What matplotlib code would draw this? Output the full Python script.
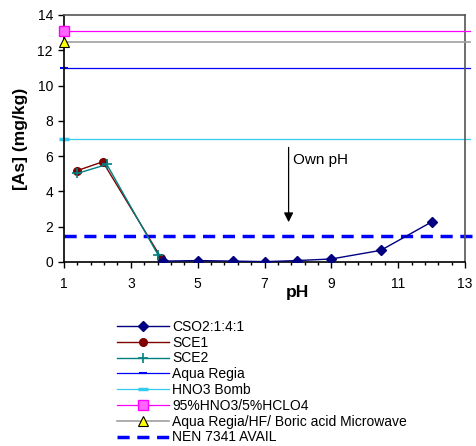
import matplotlib
matplotlib.use("Agg")
import matplotlib.pyplot as plt
import numpy as np
from matplotlib.ticker import MultipleLocator, FixedLocator

plt.rcParams['font.family'] = ['Liberation Sans', 'DejaVu Sans']

# Data
cso2_x = [3.97, 5.0, 6.05, 7.02, 7.97, 9.0, 10.48, 12.0]
cso2_y = [0.05, 0.08, 0.05, 0.02, 0.08, 0.17, 0.66, 2.27]
sce1_x = [1.38, 2.16, 3.9]
sce1_y = [5.17, 5.68, 0.25]
sce2_x = [1.4, 2.28, 3.82]
sce2_y = [5.02, 5.53, 0.38]
hline_x = [1, 13.15]
aqua_regia = 11.0
hno3_bomb = 6.97
hno3_hclo4 = 13.12
aqua_hf = 12.45
nen_7341 = 1.46
nen_x = [1, 13.2]
x_ticks = [1, 3, 5, 7, 9, 11, 13]

fig = plt.figure(figsize=(4.76, 4.46), dpi=100)
ax = fig.add_axes([0.1345, 0.4126, 0.8425, 0.5538])

ax.plot(cso2_x, cso2_y, color='#000080', marker='D', markersize=5, lw=1, label='CSO2:1:4:1', zorder=5)
ax.plot(sce1_x, sce1_y, color='#800000', marker='o', markersize=5.5, lw=1, label='SCE1', zorder=4)
ax.plot(sce2_x, sce2_y, color='#008080', marker='+', markersize=7, mew=1.2, lw=1, label='SCE2', zorder=4)
ax.plot(hline_x, [aqua_regia]*2, color='#0000FF', lw=0.9, marker='_', markersize=6, mew=1.5,
        markevery=[0], label='Aqua Regia', clip_on=False)
ax.plot(hline_x, [hno3_bomb]*2, color='#33CCEE', lw=0.9, marker='_', markersize=7, mew=2.5,
        markevery=[0], label='HNO3 Bomb', clip_on=False)
ax.plot(hline_x, [hno3_hclo4]*2, color='#FF00FF', lw=0.9, marker='s', markersize=7,
        mfc='#FF66FF', mec='#FF00FF', markevery=[0], label='95%HNO3/5%HCLO4', clip_on=False, zorder=6)
ax.plot(hline_x, [aqua_hf]*2, color='#A0A0A0', lw=1.2, marker='^', markersize=7,
        mfc='#FFFF00', mec='black', mew=0.8, markevery=[0],
        label='Aqua Regia/HF/ Boric acid Microwave', clip_on=False, zorder=6)
ax.plot(nen_x, [nen_7341]*2, color='#0000FF', lw=2.5, ls=(0, (3.5, 2.2)),
        label='NEN 7341 AVAIL', clip_on=False)

ax.annotate('', xy=(7.72, 2.1), xytext=(7.72, 6.65),
            arrowprops=dict(arrowstyle='-|>', color='black', lw=0.9, mutation_scale=14))
ax.text(7.85, 5.8, 'Own pH', fontsize=11, va='center', ha='left')

ax.set_xlim(1, 13)
ax.set_ylim(0, 14)
ax.xaxis.set_major_locator(FixedLocator(x_ticks))
ax.xaxis.set_minor_locator(FixedLocator(np.arange(1, 13.01, 0.4)))
ax.yaxis.set_major_locator(MultipleLocator(2))
ax.tick_params(axis='both', which='major', direction='out', length=4, width=1, labelsize=10)
ax.tick_params(axis='y', which='major', pad=4)
ax.tick_params(axis='x', which='major', pad=7)
ax.tick_params(axis='x', which='minor', direction='out', length=2.5, width=1)
ax.set_xlabel('pH', fontsize=12.5, fontweight='bold')
ax.xaxis.set_label_coords(0.583, -0.092)
ax.set_ylabel('[As] (mg/kg)', fontsize=12.5, fontweight='bold', labelpad=7)

for s in ['left', 'bottom']:
    ax.spines[s].set_color('black')
    ax.spines[s].set_linewidth(1.2)
for s in ['top', 'right']:
    ax.spines[s].set_color('#555555')
    ax.spines[s].set_linewidth(1.2)

fig.legend(loc='upper left', bbox_to_anchor=(0.245, 0.283), frameon=False, fontsize=10,
           handlelength=3.8, handletextpad=0.2, labelspacing=0.13, borderaxespad=0,
           borderpad=0)

fig.savefig('out.png', dpi=100)
